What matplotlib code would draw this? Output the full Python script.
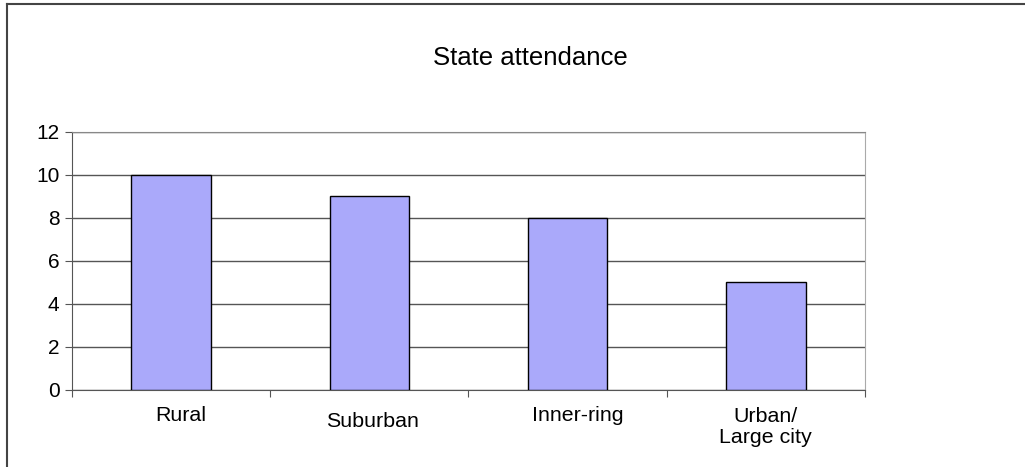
import matplotlib
matplotlib.use("Agg")
import matplotlib.pyplot as plt
from matplotlib.lines import Line2D

categories = ["Rural", "Suburban", "Inner-ring", "Urban/\nLarge city"]
values = [10, 9, 8, 5]
yticks = [0, 2, 4, 6, 8, 10, 12]
# label offsets (points), Excel-like staggering
label_drop = [11.5, 16, 11.5, 12]
label_shift = [7, 2, 7, 0]

plt.rcParams['font.family'] = ['Liberation Sans', 'DejaVu Sans']

fig = plt.figure(figsize=(10.25, 4.67), dpi=100)
ax = fig.add_axes([0.0702, 0.1649, 0.7737, 0.5525])

x = list(range(len(categories)))
ax.bar(x, values, width=0.4, color="#aaa9fa", edgecolor="black", linewidth=1, zorder=3)

ax.set_xlim(-0.5, len(categories) - 0.5)
ax.set_ylim(0, 12)
ax.set_yticks(yticks)
ax.set_yticklabels([str(v) for v in yticks], fontsize=15)
ax.yaxis.grid(True, color="#555555", linewidth=1)
ax.set_axisbelow(True)

ax.set_xticks([i - 0.5 for i in range(len(categories) + 1)])
ax.set_xticklabels([])
ax.tick_params(axis="x", direction="out", length=5, color="#555555")
ax.tick_params(axis="y", direction="out", length=5, color="#555555", pad=4)

for s in ["left", "bottom"]:
    ax.spines[s].set_color("#555555")
ax.spines["right"].set_color("#aaaaaa")
ax.spines["top"].set_color("#888888")

for i, lab in enumerate(categories):
    ax.annotate(lab, xy=(i, 0), xycoords="data",
                xytext=(label_shift[i], -label_drop[i]),
                textcoords="offset points", ha="center", va="top",
                fontsize=15.4, linespacing=1.15)

fig.text(0.517, 0.876, "State attendance", ha="center", va="center", fontsize=18.5)

# outer frame (left and top edges)
fig.add_artist(Line2D([0.0068, 0.0068], [0, 0.9914], color="#444444", linewidth=1.5))
fig.add_artist(Line2D([0.0068, 1.0], [0.9914, 0.9914], color="#444444", linewidth=1.5))

fig.savefig("out.png", dpi=100)
